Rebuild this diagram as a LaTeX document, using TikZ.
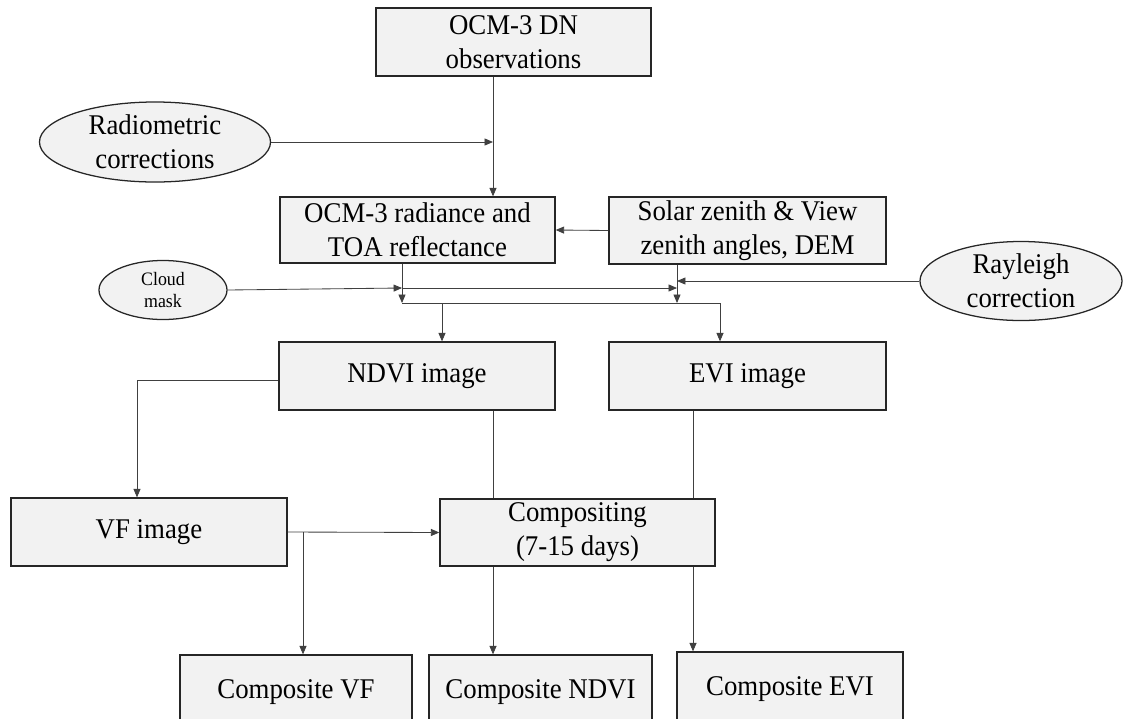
\documentclass[tikz,border=0pt]{standalone}
\usepackage{fontspec}
\setmainfont{Liberation Serif}[FakeStretch=0.94]
\usetikzlibrary{shapes.geometric,arrows.meta}

\tikzset{
    box/.style={draw=black!85, line width=.9pt, fill=black!5, align=center, inner sep=0pt,
        font=\fontsize{20.3}{24.2}\selectfont},
    oval/.style={box, ellipse},
    link/.style={draw=black!75, line width=.6pt},
    arr/.style={link, -{Triangle[length=6pt,width=5pt]}},
}

\begin{document}
\begin{tikzpicture}[x=.025cm, y=-.025cm]
    \useasboundingbox (0,0) rectangle (1124,718);
    \clip (0,0) rectangle (1124,718);

    \coordinate (j1) at (493,142);
    \coordinate (j2) at (402,288);
    \coordinate (j3) at (677,288);
    \coordinate (b1) at (402,303);
    \coordinate (b2) at (677,303);
    \coordinate (b3) at (720,303);
    \coordinate (b4) at (442,303);
    \coordinate (c1) at (493,0);
    \coordinate (c2) at (693,0);
    \coordinate (k1) at (137,380);
    \coordinate (k2) at (303,532);

    \node[box, minimum width=6.875cm, minimum height=1.7cm] (dn) at (513.5,42) {OCM-3 DN\\observations};
    \node[oval, minimum width=5.775cm, minimum height=2cm] (radio) at (155,142) {Radiometric\\corrections};
    \node[box, minimum width=6.875cm, minimum height=1.65cm] (rad) at (417.5,230) {OCM-3 radiance and\\TOA reflectance};
    \node[box, minimum width=6.925cm, minimum height=1.675cm] (solar) at (747.5,230.5) {Solar zenith \& View\\zenith angles, DEM};
    \node[oval, minimum width=3.2cm, minimum height=1.475cm, font=\fontsize{13.5}{16}\selectfont] (cloud) at (163,290) {Cloud\\mask};
    \node[oval, minimum width=5.05cm, minimum height=1.975cm] (rayl) at (1021,281) {Rayleigh\\correction};
    \node[box, minimum width=6.9cm, minimum height=1.7cm] (ndvi) at (417,376) {NDVI image};
    \node[box, minimum width=6.925cm, minimum height=1.7cm] (evi) at (747.5,376) {EVI image};
    \node[box, minimum width=6.9cm, minimum height=1.7cm] (vf) at (149,532) {VF image};
    \node[box, minimum width=6.875cm, minimum height=1.675cm] (comp) at (577.5,532.5) {Compositing\\(7-15 days)};
    \node[box, minimum width=5.8cm, minimum height=1.85cm] (cvf) at (296,692) {Composite VF};
    \node[box, minimum width=5.575cm, minimum height=1.85cm] (cndvi) at (540.5,692) {Composite NDVI};
    \node[box, minimum width=5.65cm, minimum height=1.85cm] (cevi) at (790,689) {Composite EVI};

    \draw[arr] (dn.south -| j1) -- (rad.north -| j1);
    \draw[arr] (radio.east) -- (j1);
    \draw[arr] (solar.west) -- (rad.east);
    \draw[arr] (cloud.east) -- (j2);
    \draw[arr] (j2) -- (j3);
    \draw[arr] (rayl.west) -- (rayl.west -| j3);
    \draw[arr] (rad.south -| b1) -- (b1);
    \draw[arr] (solar.south -| b2) -- (b2);
    \draw[link] (b1) -- (b3);
    \draw[arr] (b4) -- (ndvi.north -| b4);
    \draw[arr] (b3) -- (evi.north -| b3);
    \draw[link] (ndvi.south -| c1) -- (comp.north -| c1);
    \draw[link] (evi.south -| c2) -- (comp.north -| c2);
    \draw[arr] (comp.south -| c1) -- (cndvi.north -| c1);
    \draw[arr] (comp.south -| c2) -- (cevi.north -| c2);
    \draw[arr] (ndvi.west |- k1) -- (k1) -- (vf.north -| k1);
    \draw[arr] (vf.east) -- (comp.west);
    \draw[arr] (k2) -- (cvf.north -| k2);
\end{tikzpicture}
\end{document}
